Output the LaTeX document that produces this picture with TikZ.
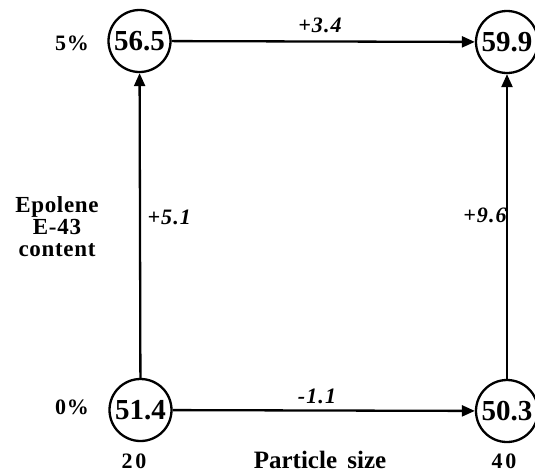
\documentclass[tikz,border=0pt]{standalone}
\usepackage{fontspec}
\setmainfont{Liberation Serif}
\usetikzlibrary{arrows.meta}
\begin{document}
\begin{tikzpicture}[x=1pt,y=-1pt,
  val/.style={circle,draw,line width=2.3pt,minimum size=62pt,inner sep=0pt,font=\fontsize{29}{30}\selectfont\bfseries},
  conn/.style={line width=2.3pt,-{Triangle[length=13pt,width=11pt]}},
  lbl/.style={font=\fontsize{22}{24}\selectfont\bfseries\itshape\addfontfeature{LetterSpace=5}},
  axis/.style={font=\fontsize{22}{24}\selectfont\bfseries\addfontfeature{LetterSpace=4}}]
\clip (0,0) rectangle (535,475);
\node[val] (A) at (139.5,41) {56.5};
\node[val] (B) at (507,42) {59.9};
\node[val] (C) at (140.5,410) {51.4};
\node[val] (D) at (507,411) {50.3};
\draw[conn] (C) -- (A);
\draw[conn] (A) -- (B);
\draw[conn] (C) -- (D);
\draw[conn] (D) -- (B);
\node[lbl] (l1) at (320,25) {+3.4};
\node[lbl] (l2) at (317,396) {-1.1};
\node[lbl,anchor=west] (l3) at (144,217) {+5.1};
\node[lbl] (l4) at (485,215) {+9.6};
\node[axis] (p5) at (72,43) {5\%};
\node[axis] (p0) at (72,407) {0\%};
\node[axis,font=\fontsize{22}{24}\selectfont\bfseries\addfontfeature{LetterSpace=12}] (x20) at (134,461) {20};
\node[axis,font=\fontsize{25}{26}\selectfont\bfseries] (ps) at (320,460) {Particle\hspace{4pt} size};
\node[axis,font=\fontsize{22}{24}\selectfont\bfseries\addfontfeature{LetterSpace=12}] (x40) at (504,461) {40};
\node[axis,align=center,font=\fontsize{23}{22}\selectfont\bfseries\addfontfeature{LetterSpace=3}] (ep) at (57,227) {Epolene\\E-43\\content};
\end{tikzpicture}
\end{document}
